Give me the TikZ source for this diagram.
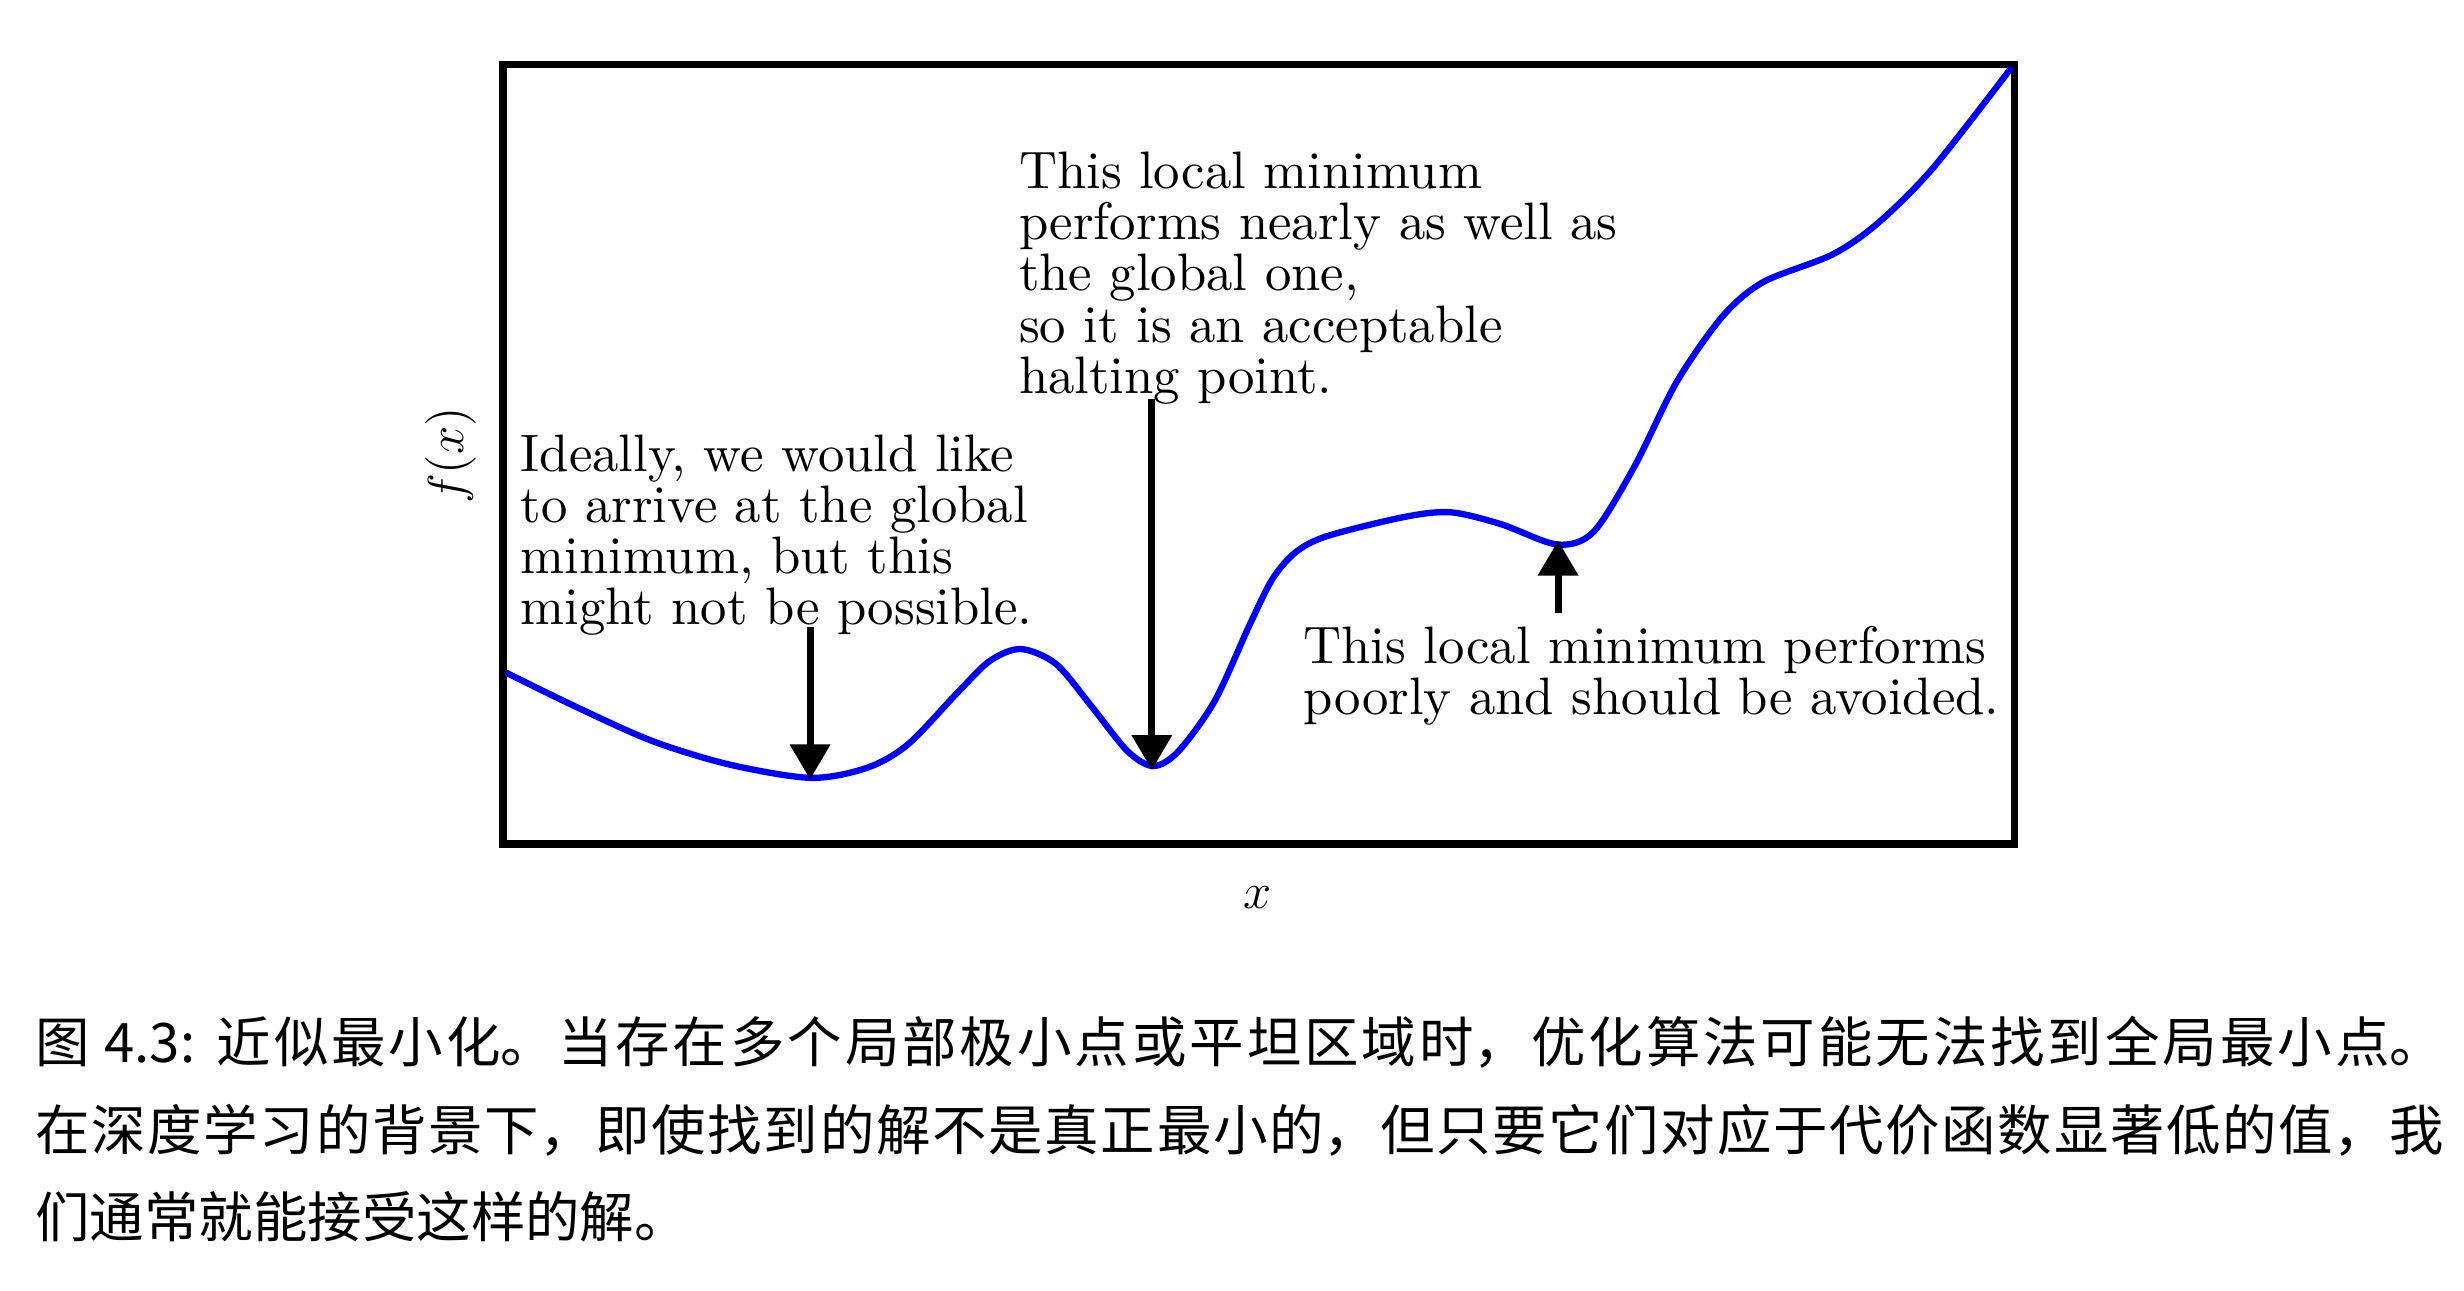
\documentclass[tikz,border=0pt]{standalone}
\usepackage{fontspec}
\usepackage{tikz}
\usetikzlibrary{arrows.meta}
\newfontfamily\cjk{Noto Sans CJK SC}
\newfontfamily\notefont{lmroman10-regular.otf}
\XeTeXlinebreaklocale "zh"
\XeTeXlinebreakskip=0pt plus 2pt

\begin{document}
\begin{tikzpicture}[
    x=0.015714cm, y=-0.015714cm,
    frame/.style={draw=black, line width=2.2pt},
    curve/.style={draw=blue, line width=1.8pt},
    note/.style={anchor=north west, inner sep=0pt, align=left, font=\notefont\fontsize{15}{14.6}\selectfont},
    axislabel/.style={inner sep=0pt, font=\fontsize{15}{14.6}\selectfont},
    arrow/.style={-{Triangle[width=0.39cm, length=0.35cm]}, line width=2pt, black},
    caption/.style={anchor=north west, inner sep=0pt, text width=24.09cm, align=justify, font=\cjk\fontsize{15.5}{25}\selectfont}
]
\useasboundingbox (0,0) rectangle (1568,821);

% Frame and curve
\draw[frame] (320,41) rectangle (1282,537);
\draw[curve] plot[smooth, tension=0.5] coordinates {
    (322,428) (367,450) (415,471.5) (464,486.5) (516,495) (552,488.5)
    (578,473.5) (610,440) (630,420.5) (649.5,413) (672,422.5) (695,450)
    (717.5,478) (734,487.5) (750,478) (773,446) (795.5,397) (810,368)
    (825,351) (845,341) (893.5,329) (923,326) (955,333.5) (991,346.5)
    (1014,338.5) (1040,297) (1067,243) (1096,201.5)
    (1122,179.5) (1166,162) (1195,142) (1230,107) (1280,43)};

% Minima and arrow tails
\coordinate (gmin) at (515.5,496);
\coordinate (gtail) at (515.5,399);
\coordinate (lmin) at (733,490);
\coordinate (ltail) at (733,254);
\coordinate (bmin) at (991.5,344);
\coordinate (btail) at (991.5,390);

% Notes
\node[note] (ideal) at (331,276) {Ideally, we would like\\to arrive at the global\\minimum, but this\\might not be possible.};
\node[note] (accept) at (648,96) {This local minimum\\performs nearly as well as\\the global one,\\so it is an acceptable\\halting point.};
\node[note] (poor) at (829,398) {This local minimum performs\\poorly and should be avoided.};

% Axis labels
\node[axislabel, rotate=90] (ylab) at (287,290) {$f(x)$};
\node[axislabel] (xlab) at (800,571) {$x$};

% Arrows
\draw[arrow] (gtail) -- (gmin);
\draw[arrow] (ltail) -- (lmin);
\draw[arrow] (btail) -- (bmin);

% Caption
\node[caption] (cap) at (22,646) {\noindent 图 4.3: 近似最小化。当存在多个局部极小点或平坦区域时，优化算法可能无法找到全局最小点。\linebreak
在深度学习的背景下，即使找到的解不是真正最小的，但只要它们对应于代价函数显著低的值，我\linebreak
们通常就能接受这样的解。};

\end{tikzpicture}
\end{document}
